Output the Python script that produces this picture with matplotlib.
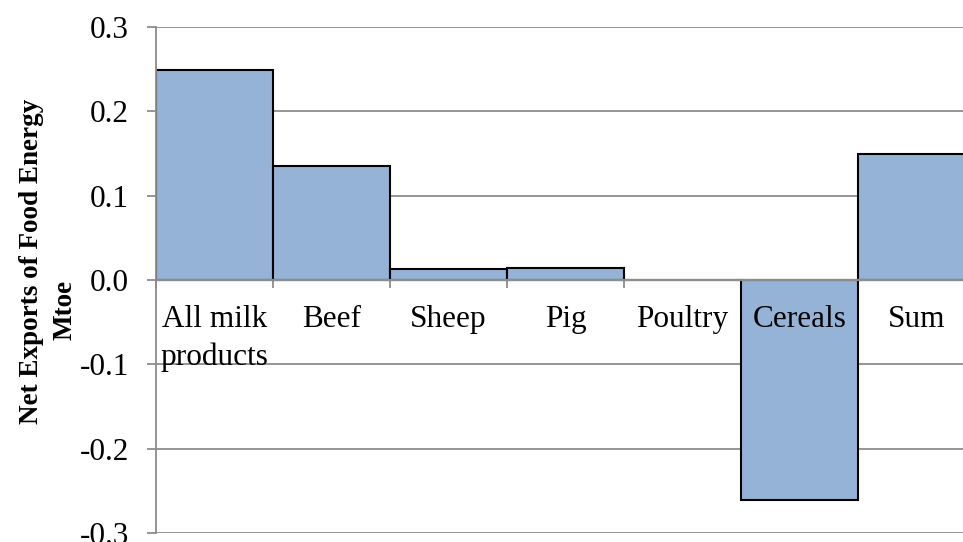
import matplotlib
matplotlib.use("Agg")
import matplotlib.pyplot as plt
from matplotlib.ticker import FormatStrFormatter, FixedLocator

# Net exports of food energy by product group (Mtoe)
categories = ["All milk\nproducts", "Beef", "Sheep", "Pig", "Poultry", "Cereals", "Sum"]
net_exports = [0.249, 0.135, 0.013, 0.014, 0.0, -0.261, 0.149]
y_ticks = [-0.3, -0.2, -0.1, 0.0, 0.1, 0.2, 0.3]

plt.rcParams["font.family"] = ["Liberation Serif", "DejaVu Serif"]
plt.rcParams["axes.unicode_minus"] = False

W, H = 963, 542
fig = plt.figure(figsize=(W / 100, H / 100), dpi=100)
fig.patch.set_facecolor("white")

# Plot area in pixel terms (it runs past the right edge of the canvas)
left_px, right_px, top_px, bottom_px = 156, 975, 27, 533
ax = fig.add_axes([left_px / W, 1 - bottom_px / H,
                   (right_px - left_px) / W, (bottom_px - top_px) / H])

grid_grey = "#8c8c8c"
bar_fill = "#95B3D7"

x = list(range(len(categories)))
ax.bar(x, net_exports, width=1.0, color=bar_fill, edgecolor="black",
       linewidth=1.5, zorder=2)

ax.set_xlim(-0.5, len(categories) - 0.5)
ax.set_ylim(y_ticks[0], y_ticks[-1])
ax.set_yticks(y_ticks)
ax.yaxis.set_major_formatter(FormatStrFormatter("%.1f"))
ax.set_axisbelow(True)
ax.yaxis.grid(True, color=grid_grey, linewidth=1.3)

# Category axis sits on the zero line, with ticks between the bars
ax.spines["bottom"].set_position(("data", 0))
ax.spines["bottom"].set_color(grid_grey)
ax.spines["bottom"].set_linewidth(1.6)
ax.spines["bottom"].set_zorder(3)
ax.spines["left"].set_color(grid_grey)
ax.spines["left"].set_linewidth(1.3)
ax.spines["top"].set_visible(False)
ax.spines["right"].set_visible(False)

ax.xaxis.set_major_locator(FixedLocator([i - 0.5 for i in range(len(categories) + 1)]))
ax.tick_params(axis="x", direction="out", length=6, width=1.3, color=grid_grey,
               labelbottom=False)
ax.tick_params(axis="y", direction="out", length=6.5, width=1.3, color=grid_grey,
               labelsize=22.5, pad=13, labelcolor="black")

for xi, name in zip(x, categories):
    ax.annotate(name, xy=(xi, 0), xytext=(0, -25), textcoords="offset pixels",
                ha="center", va="top", fontsize=22.5, linespacing=1.4,
                multialignment="center", zorder=4)

# Two-line axis title
fig.text(38 / W, 1 - 261 / H, "Net Exports of Food Energy", rotation=90,
         rotation_mode="anchor", ha="center", va="baseline",
         fontsize=19.5, fontweight="bold")
fig.text(71 / W, 1 - 310 / H, "Mtoe", rotation=90,
         rotation_mode="anchor", ha="center", va="baseline",
         fontsize=19.5, fontweight="bold")

fig.savefig("out.png", dpi=100, facecolor="white")
